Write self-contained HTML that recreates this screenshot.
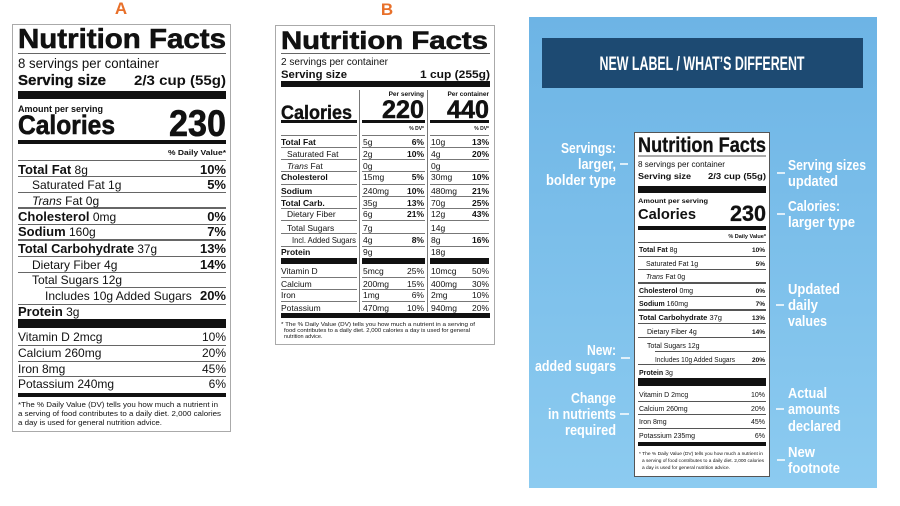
<!DOCTYPE html>
<html><head><meta charset="utf-8"><style>
html,body{margin:0;padding:0;background:#fff;width:900px;height:506px;overflow:hidden}
svg{display:block}
text{font-family:"Liberation Sans",Arial,sans-serif;fill:#111}
.b{font-weight:bold}
.w{fill:#fff;font-weight:bold}
</style></head><body>
<svg width="900" height="506" viewBox="0 0 900 506" xmlns="http://www.w3.org/2000/svg">
<defs><linearGradient id="g" x1="0" y1="0" x2="0" y2="1"><stop offset="0" stop-color="#6db4e5"/><stop offset="1" stop-color="#8ccbf0"/></linearGradient></defs>

<!-- ===== LABEL A ===== -->
<text x="121" y="14" class="b" font-size="17" style="fill:#e8702a" text-anchor="middle">A</text>
<rect x="12.5" y="24.5" width="218" height="407" fill="#fff" stroke="#aaa"/>
<text x="18" y="48" class="b" font-size="28" textLength="208" lengthAdjust="spacingAndGlyphs" stroke="#111" stroke-width="0.6">Nutrition Facts</text>
<line x1="18" x2="226" y1="53.5" y2="53.5" stroke="#666"/>
<text x="18" y="68" font-size="14" textLength="141" lengthAdjust="spacingAndGlyphs">8 servings per container</text>
<text x="18" y="85" class="b" font-size="15" textLength="88" lengthAdjust="spacingAndGlyphs" stroke="#111" stroke-width="0.3">Serving size</text>
<text x="226" y="85" class="b" font-size="14" text-anchor="end" textLength="92" lengthAdjust="spacingAndGlyphs">2/3 cup (55g)</text>
<rect x="18" y="91" width="208" height="8" fill="#111"/>
<text x="18" y="112" class="b" font-size="9.5" textLength="85" lengthAdjust="spacingAndGlyphs">Amount per serving</text>
<text x="18" y="134" class="b" font-size="27" textLength="97" lengthAdjust="spacingAndGlyphs" stroke="#111" stroke-width="0.6">Calories</text>
<text x="226" y="136" class="b" font-size="37" text-anchor="end" textLength="57" lengthAdjust="spacingAndGlyphs" stroke="#111" stroke-width="0.6">230</text>
<rect x="18" y="140" width="208" height="4" fill="#111"/>
<text x="226" y="155" class="b" font-size="7.5" text-anchor="end" textLength="58" lengthAdjust="spacingAndGlyphs">% Daily Value*</text>
<g stroke="#666" stroke-width="1">
<line x1="18" x2="226" y1="160.5" y2="160.5"/>
<line x1="18" x2="226" y1="176.5" y2="176.5"/>
<line x1="18" x2="226" y1="192.5" y2="192.5"/>
<line x1="18" x2="226" y1="208" y2="208" stroke-width="2"/>
<line x1="18" x2="226" y1="224.5" y2="224.5"/>
<line x1="18" x2="226" y1="240" y2="240" stroke-width="2"/>
<line x1="18" x2="226" y1="256.5" y2="256.5"/>
<line x1="18" x2="226" y1="272.5" y2="272.5"/>
<line x1="45" x2="226" y1="287.5" y2="287.5"/>
<line x1="18" x2="226" y1="304.5" y2="304.5"/>
<line x1="18" x2="226" y1="345.5" y2="345.5"/>
<line x1="18" x2="226" y1="361.5" y2="361.5"/>
<line x1="18" x2="226" y1="376.5" y2="376.5"/>
</g>
<g font-size="12">
<text x="18" y="174"><tspan class="b" font-size="13">Total Fat</tspan> 8g</text><text x="226" y="174" class="b" text-anchor="end" font-size="13">10%</text>
<text x="32" y="189">Saturated Fat 1g</text><text x="226" y="189" class="b" text-anchor="end" font-size="13">5%</text>
<text x="32" y="205"><tspan font-style="italic">Trans</tspan> Fat 0g</text>
<text x="18" y="221"><tspan class="b" font-size="13">Cholesterol</tspan> 0mg</text><text x="226" y="221" class="b" text-anchor="end" font-size="13">0%</text>
<text x="18" y="236"><tspan class="b" font-size="13">Sodium</tspan> 160g</text><text x="226" y="236" class="b" text-anchor="end" font-size="13">7%</text>
<text x="18" y="253" textLength="139" lengthAdjust="spacingAndGlyphs"><tspan class="b" font-size="13">Total Carbohydrate</tspan> 37g</text><text x="226" y="253" class="b" text-anchor="end" font-size="13">13%</text>
<text x="32" y="269">Dietary Fiber 4g</text><text x="226" y="269" class="b" text-anchor="end" font-size="13">14%</text>
<text x="32" y="284">Total Sugars 12g</text>
<text x="45" y="300">Includes 10g Added Sugars</text><text x="226" y="300" class="b" text-anchor="end" font-size="13">20%</text>
<text x="18" y="316"><tspan class="b" font-size="13">Protein</tspan> 3g</text>
<text x="18" y="341">Vitamin D 2mcg</text><text x="226" y="341" text-anchor="end">10%</text>
<text x="18" y="357">Calcium 260mg</text><text x="226" y="357" text-anchor="end">20%</text>
<text x="18" y="373">Iron 8mg</text><text x="226" y="373" text-anchor="end">45%</text>
<text x="18" y="388">Potassium 240mg</text><text x="226" y="388" text-anchor="end">6%</text>
</g>
<rect x="18" y="319" width="208" height="9" fill="#111"/>
<rect x="18" y="393" width="208" height="4" fill="#111"/>
<g font-size="7.5">
<text x="18" y="407" textLength="200" lengthAdjust="spacingAndGlyphs">*The % Daily Value (DV) tells you how much a nutrient in</text>
<text x="18" y="416" textLength="203" lengthAdjust="spacingAndGlyphs">a serving of food contributes to a daily diet. 2,000 calories</text>
<text x="18" y="425" textLength="144" lengthAdjust="spacingAndGlyphs">a day is used for general nutrition advice.</text>
</g>

<!-- ===== LABEL B ===== -->
<text x="387" y="15" class="b" font-size="17" style="fill:#e8702a" text-anchor="middle">B</text>
<rect x="275.5" y="25.5" width="219" height="319" fill="#fff" stroke="#aaa"/>
<text x="281" y="49" class="b" font-size="25" textLength="207" lengthAdjust="spacingAndGlyphs" stroke="#111" stroke-width="0.6">Nutrition Facts</text>
<line x1="281" x2="490" y1="53.5" y2="53.5" stroke="#666"/>
<text x="281" y="65" font-size="10" textLength="107" lengthAdjust="spacingAndGlyphs">2 servings per container</text>
<text x="281" y="78" class="b" font-size="11" textLength="66" lengthAdjust="spacingAndGlyphs">Serving size</text>
<text x="490" y="78" class="b" font-size="11" text-anchor="end" textLength="70" lengthAdjust="spacingAndGlyphs">1 cup (255g)</text>
<rect x="281" y="81" width="209" height="6" fill="#111"/>
<line x1="359.5" x2="359.5" y1="90" y2="312" stroke="#777"/>
<line x1="427.5" x2="427.5" y1="90" y2="312" stroke="#777"/>
<text x="281" y="119" class="b" font-size="19" textLength="71" lengthAdjust="spacingAndGlyphs" stroke="#111" stroke-width="0.4">Calories</text>
<text x="424" y="96" class="b" font-size="6.5" text-anchor="end">Per serving</text>
<text x="424" y="118" class="b" font-size="25" text-anchor="end" textLength="42" lengthAdjust="spacingAndGlyphs" stroke="#111" stroke-width="0.5">220</text>
<text x="489" y="96" class="b" font-size="6.5" text-anchor="end">Per container</text>
<text x="489" y="118" class="b" font-size="25" text-anchor="end" textLength="42" lengthAdjust="spacingAndGlyphs" stroke="#111" stroke-width="0.5">440</text>
<g fill="#111">
<rect x="281" y="120" width="76" height="3"/><rect x="362" y="120" width="63" height="3"/><rect x="430" y="120" width="59" height="3"/>
<rect x="281" y="258" width="76" height="6"/><rect x="362" y="258" width="63" height="6"/><rect x="430" y="258" width="59" height="6"/>
<rect x="281" y="313" width="209" height="5"/>
</g>
<text x="424" y="130" class="b" font-size="5" text-anchor="end">% DV*</text>
<text x="489" y="130" class="b" font-size="5" text-anchor="end">% DV*</text>
<g stroke="#777" stroke-width="1">
<path d="M281 135.5H357M362 135.5H425M430 135.5H489"/>
<path d="M281 147.5H357M362 147.5H425M430 147.5H489"/>
<path d="M281 159.5H357M362 159.5H425M430 159.5H489"/>
<path d="M281 171.5H357M362 171.5H425M430 171.5H489"/>
<path d="M281 184.5H357M362 184.5H425M430 184.5H489"/>
<path d="M281 196.5H357M362 196.5H425M430 196.5H489"/>
<path d="M281 208.5H357M362 208.5H425M430 208.5H489"/>
<path d="M281 220.5H357M362 220.5H425M430 220.5H489"/>
<path d="M281 233.5H357M362 233.5H425M430 233.5H489"/>
<path d="M281 246.5H357M362 246.5H425M430 246.5H489"/>
<path d="M281 277.5H357M362 277.5H425M430 277.5H489"/>
<path d="M281 289.5H357M362 289.5H425M430 289.5H489"/>
<path d="M281 301.5H357M362 301.5H425M430 301.5H489"/>
</g>
<g font-size="8.5">
<text x="281" y="145" class="b">Total Fat</text><text x="363" y="145">5g</text><text x="424" y="145" class="b" text-anchor="end">6%</text><text x="431" y="145">10g</text><text x="489" y="145" class="b" text-anchor="end">13%</text>
<text x="287" y="157">Saturated Fat</text><text x="363" y="157">2g</text><text x="424" y="157" class="b" text-anchor="end">10%</text><text x="431" y="157">4g</text><text x="489" y="157" class="b" text-anchor="end">20%</text>
<text x="287" y="169"><tspan font-style="italic">Trans</tspan> Fat</text><text x="363" y="169">0g</text><text x="431" y="169">0g</text>
<text x="281" y="180" class="b">Cholesterol</text><text x="363" y="180">15mg</text><text x="424" y="180" class="b" text-anchor="end">5%</text><text x="431" y="180">30mg</text><text x="489" y="180" class="b" text-anchor="end">10%</text>
<text x="281" y="194" class="b">Sodium</text><text x="363" y="194">240mg</text><text x="424" y="194" class="b" text-anchor="end">10%</text><text x="431" y="194">480mg</text><text x="489" y="194" class="b" text-anchor="end">21%</text>
<text x="281" y="206" class="b">Total Carb.</text><text x="363" y="206">35g</text><text x="424" y="206" class="b" text-anchor="end">13%</text><text x="431" y="206">70g</text><text x="489" y="206" class="b" text-anchor="end">25%</text>
<text x="287" y="217">Dietary Fiber</text><text x="363" y="217">6g</text><text x="424" y="217" class="b" text-anchor="end">21%</text><text x="431" y="217">12g</text><text x="489" y="217" class="b" text-anchor="end">43%</text>
<text x="287" y="231">Total Sugars</text><text x="363" y="231">7g</text><text x="431" y="231">14g</text>
<text x="292" y="243" textLength="64" lengthAdjust="spacingAndGlyphs">Incl. Added Sugars</text><text x="363" y="243">4g</text><text x="424" y="243" class="b" text-anchor="end">8%</text><text x="431" y="243">8g</text><text x="489" y="243" class="b" text-anchor="end">16%</text>
<text x="281" y="255" class="b">Protein</text><text x="363" y="255">9g</text><text x="431" y="255">18g</text>
<text x="281" y="274">Vitamin D</text><text x="363" y="274">5mcg</text><text x="424" y="274" text-anchor="end">25%</text><text x="431" y="274">10mcg</text><text x="489" y="274" text-anchor="end">50%</text>
<text x="281" y="287">Calcium</text><text x="363" y="287">200mg</text><text x="424" y="287" text-anchor="end">15%</text><text x="431" y="287">400mg</text><text x="489" y="287" text-anchor="end">30%</text>
<text x="281" y="298">Iron</text><text x="363" y="298">1mg</text><text x="424" y="298" text-anchor="end">6%</text><text x="431" y="298">2mg</text><text x="489" y="298" text-anchor="end">10%</text>
<text x="281" y="311">Potassium</text><text x="363" y="311">470mg</text><text x="424" y="311" text-anchor="end">10%</text><text x="431" y="311">940mg</text><text x="489" y="311" text-anchor="end">20%</text>
</g>
<g font-size="5.5">
<text x="281" y="326" textLength="194" lengthAdjust="spacingAndGlyphs">* The % Daily Value (DV) tells you how much a nutrient in a serving of</text>
<text x="284" y="332" textLength="186" lengthAdjust="spacingAndGlyphs">food contributes to a daily diet. 2,000 calories a day is used for general</text>
<text x="284" y="338">nutrition advice.</text>
</g>

<!-- ===== PANEL C ===== -->
<rect x="529" y="17" width="348" height="471" fill="url(#g)"/>
<rect x="542" y="38" width="321" height="50" fill="#1d4a72"/>
<text x="702" y="70" class="w" font-size="19" text-anchor="middle" textLength="205" lengthAdjust="spacingAndGlyphs">NEW LABEL / WHAT’S DIFFERENT</text>
<rect x="634.5" y="132.5" width="135" height="344" fill="#fff" stroke="#555"/>
<text x="638" y="152" class="b" font-size="21" textLength="128" lengthAdjust="spacingAndGlyphs" stroke="#111" stroke-width="0.3">Nutrition Facts</text>
<line x1="638" x2="766" y1="156" y2="156" stroke="#555"/>
<text x="638" y="167" font-size="8.5" textLength="87" lengthAdjust="spacingAndGlyphs">8 servings per container</text>
<text x="638" y="179" class="b" font-size="8.5" textLength="53" lengthAdjust="spacingAndGlyphs">Serving size</text>
<text x="766" y="179" class="b" font-size="8.5" text-anchor="end" textLength="58" lengthAdjust="spacingAndGlyphs">2/3 cup (55g)</text>
<rect x="638" y="186" width="128" height="7" fill="#111"/>
<text x="638" y="203" class="b" font-size="6.5" textLength="70" lengthAdjust="spacingAndGlyphs">Amount per serving</text>
<text x="638" y="219" class="b" font-size="15" textLength="58" lengthAdjust="spacingAndGlyphs">Calories</text>
<text x="766" y="221" class="b" font-size="22" text-anchor="end" textLength="36" lengthAdjust="spacingAndGlyphs" stroke="#111" stroke-width="0.3">230</text>
<rect x="638" y="226" width="128" height="4" fill="#111"/>
<text x="766" y="238" class="b" font-size="5.5" text-anchor="end">% Daily Value*</text>
<g stroke="#555">
<line x1="638" x2="766" y1="242.5" y2="242.5"/>
<line x1="638" x2="766" y1="256.5" y2="256.5"/>
<line x1="638" x2="766" y1="269.5" y2="269.5"/>
<line x1="638" x2="766" y1="283" y2="283" stroke-width="2"/>
<line x1="638" x2="766" y1="296.5" y2="296.5"/>
<line x1="638" x2="766" y1="310" y2="310" stroke-width="2"/>
<line x1="638" x2="766" y1="323.5" y2="323.5"/>
<line x1="638" x2="766" y1="337.5" y2="337.5"/>
<line x1="655" x2="766" y1="351.5" y2="351.5"/>
<line x1="638" x2="766" y1="364.5" y2="364.5"/>
<line x1="638" x2="766" y1="401.5" y2="401.5"/>
<line x1="638" x2="766" y1="414.5" y2="414.5"/>
<line x1="638" x2="766" y1="428.5" y2="428.5"/>
</g>
<rect x="638" y="378" width="128" height="8" fill="#111"/>
<rect x="638" y="442" width="128" height="4" fill="#111"/>
<g font-size="7">
<text x="639" y="252"><tspan class="b">Total Fat</tspan> 8g</text><text x="765" y="252" class="b" text-anchor="end" font-size="6.5">10%</text>
<text x="646" y="266">Saturated Fat 1g</text><text x="765" y="266" class="b" text-anchor="end" font-size="6.5">5%</text>
<text x="646" y="279"><tspan font-style="italic">Trans</tspan> Fat 0g</text>
<text x="639" y="293"><tspan class="b">Cholesterol</tspan> 0mg</text><text x="765" y="293" class="b" text-anchor="end" font-size="6.5">0%</text>
<text x="639" y="306"><tspan class="b">Sodium</tspan> 160mg</text><text x="765" y="306" class="b" text-anchor="end" font-size="6.5">7%</text>
<text x="639" y="320" textLength="83" lengthAdjust="spacingAndGlyphs"><tspan class="b">Total Carbohydrate</tspan> 37g</text><text x="765" y="320" class="b" text-anchor="end" font-size="6.5">13%</text>
<text x="647" y="334">Dietary Fiber 4g</text><text x="765" y="334" class="b" text-anchor="end" font-size="6.5">14%</text>
<text x="647" y="348">Total Sugars 12g</text>
<text x="655" y="362" textLength="80" lengthAdjust="spacingAndGlyphs">Includes 10g Added Sugars</text><text x="765" y="362" class="b" text-anchor="end" font-size="6.5">20%</text>
<text x="639" y="375"><tspan class="b">Protein</tspan> 3g</text>
<text x="639" y="397">Vitamin D 2mcg</text><text x="765" y="397" text-anchor="end">10%</text>
<text x="639" y="411">Calcium 260mg</text><text x="765" y="411" text-anchor="end">20%</text>
<text x="639" y="424">Iron 8mg</text><text x="765" y="424" text-anchor="end">45%</text>
<text x="639" y="438">Potassium 235mg</text><text x="765" y="438" text-anchor="end">6%</text>
</g>
<g font-size="4.5">
<text x="639" y="455" textLength="124" lengthAdjust="spacingAndGlyphs">* The % Daily Value (DV) tells you how much a nutrient in</text>
<text x="642" y="462" textLength="122" lengthAdjust="spacingAndGlyphs">a serving of food contributes to a daily diet. 2,000 calories</text>
<text x="642" y="469" textLength="88" lengthAdjust="spacingAndGlyphs">a day is used for general nutrition advice.</text>
</g>

<!-- annotations -->
<g font-size="15" text-anchor="end">
<text x="616" y="153" class="w" textLength="55" lengthAdjust="spacingAndGlyphs">Servings:</text>
<text x="616" y="169" class="w" textLength="38" lengthAdjust="spacingAndGlyphs">larger,</text>
<text x="616" y="185" class="w" textLength="70" lengthAdjust="spacingAndGlyphs">bolder type</text>
<text x="616" y="355" class="w" textLength="29" lengthAdjust="spacingAndGlyphs">New:</text>
<text x="616" y="371" class="w" textLength="81" lengthAdjust="spacingAndGlyphs">added sugars</text>
<text x="616" y="403" class="w" textLength="45" lengthAdjust="spacingAndGlyphs">Change</text>
<text x="616" y="419" class="w" textLength="68" lengthAdjust="spacingAndGlyphs">in nutrients</text>
<text x="616" y="435" class="w" textLength="51" lengthAdjust="spacingAndGlyphs">required</text>
</g>
<g font-size="15">
<text x="788" y="170" class="w" textLength="78" lengthAdjust="spacingAndGlyphs">Serving sizes</text>
<text x="788" y="186" class="w" textLength="50" lengthAdjust="spacingAndGlyphs">updated</text>
<text x="788" y="211" class="w" textLength="52" lengthAdjust="spacingAndGlyphs">Calories:</text>
<text x="788" y="227" class="w" textLength="67" lengthAdjust="spacingAndGlyphs">larger type</text>
<text x="788" y="294" class="w" textLength="52" lengthAdjust="spacingAndGlyphs">Updated</text>
<text x="788" y="310" class="w" textLength="30" lengthAdjust="spacingAndGlyphs">daily</text>
<text x="788" y="326" class="w" textLength="39" lengthAdjust="spacingAndGlyphs">values</text>
<text x="788" y="398" class="w" textLength="39" lengthAdjust="spacingAndGlyphs">Actual</text>
<text x="788" y="414" class="w" textLength="52" lengthAdjust="spacingAndGlyphs">amounts</text>
<text x="788" y="431" class="w" textLength="53" lengthAdjust="spacingAndGlyphs">declared</text>
<text x="788" y="457" class="w" textLength="27" lengthAdjust="spacingAndGlyphs">New</text>
<text x="788" y="473" class="w" textLength="52" lengthAdjust="spacingAndGlyphs">footnote</text>
</g>
<g stroke="#fff" stroke-width="1.5">
<line x1="620" x2="628" y1="164" y2="164"/>
<line x1="621" x2="630" y1="358" y2="358"/>
<line x1="620" x2="629" y1="414" y2="414"/>
<line x1="777" x2="785" y1="173" y2="173"/>
<line x1="777" x2="785" y1="214" y2="214"/>
<line x1="776" x2="784" y1="305" y2="305"/>
<line x1="776" x2="784" y1="409" y2="409"/>
<line x1="777" x2="785" y1="460" y2="460"/>
</g>
</svg>
</body></html>
